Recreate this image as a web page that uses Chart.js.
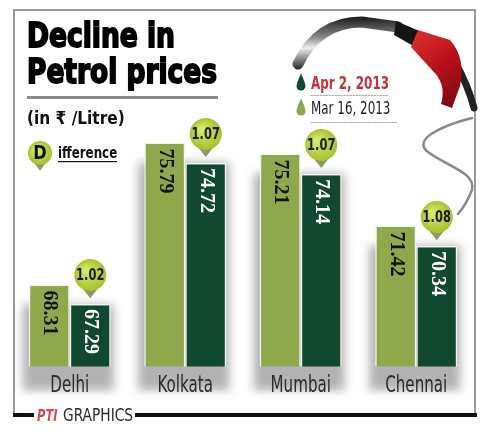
<!DOCTYPE html>
<html>
<head>
<meta charset="utf-8">
<script src="https://cdn.jsdelivr.net/npm/chart.js@4.4.1/dist/chart.umd.min.js"></script>
<style>
  html, body { margin: 0; padding: 0; background: #fff; }
  #wrap { width: 487px; height: 430px; position: relative; }
</style>
</head>
<body>
<div id="wrap"><canvas id="petrolChart"></canvas></div>
<script>
// data (Rs per litre)
var cities = ["Delhi", "Kolkata", "Mumbai", "Chennai"];
var mar16 = [68.31, 75.79, 75.21, 71.42];
var apr2 = [67.29, 74.72, 74.14, 70.34];
var diffLabels = ["1.02", "1.07", "1.07", "1.08"];
var seriesNames = ["Mar 16, 2013", "Apr 2, 2013"];

var LIGHT = "#8fa84b";
var DARK = "#10492f";
var NARROW = '"DejaVu Sans Condensed", "Liberation Sans", sans-serif';

function drop(ctx, cx, cy, w, h, color) {
  var r = w / 2;
  ctx.beginPath();
  ctx.moveTo(cx, cy - h / 2);
  ctx.quadraticCurveTo(cx + r * 0.9, cy, cx + r, cy + h / 2 - r);
  ctx.arc(cx, cy + h / 2 - r, r, 0, Math.PI);
  ctx.quadraticCurveTo(cx - r * 0.9, cy, cx, cy - h / 2);
  ctx.fillStyle = color;
  ctx.fill();
}

// text drawn narrower than the installed condensed face
function narrowText(ctx, text, x, y, sx, align, stroke) {
  var w = ctx.measureText(text).width * sx;
  var dx = align === "center" ? -w / 2 : 0;
  ctx.save();
  ctx.textAlign = "left";
  ctx.translate(x + dx, y);
  ctx.scale(sx, 1);
  ctx.fillText(text, 0, 0);
  if (stroke) ctx.strokeText(text, 0, 0);
  ctx.restore();
}

function badge(ctx, cx, cy, r, text, size) {
  ctx.beginPath();
  ctx.moveTo(cx - r * 0.75, cy + r * 0.5);
  ctx.lineTo(cx + r * 0.75, cy + r * 0.5);
  ctx.lineTo(cx, cy + r * 1.45);
  ctx.closePath();
  ctx.fillStyle = "#8c9a6a";
  ctx.fill();
  var g = ctx.createRadialGradient(cx - r * 0.3, cy - r * 0.3, 2, cx, cy, r);
  g.addColorStop(0, "#d4e86a");
  g.addColorStop(1, "#a5c22c");
  ctx.beginPath();
  ctx.arc(cx, cy, r, 0, Math.PI * 2);
  ctx.fillStyle = g;
  ctx.fill();
  if (text) {
    ctx.fillStyle = "#1a1a1a";
    ctx.font = "bold " + size + "px " + NARROW;
    ctx.textBaseline = "middle";
    narrowText(ctx, text, cx, cy + 1, 0.85, "center");
  }
}

var decor = {
  id: "decor",
  beforeDraw: function (chart) {
    var ctx = chart.ctx;
    ctx.save();
    ctx.fillStyle = "#fff";
    ctx.fillRect(0, 0, chart.width, chart.height);

    // frame
    ctx.strokeStyle = "#7a7a7a";
    ctx.lineWidth = 1.5;
    ctx.beginPath();
    ctx.moveTo(14, 415);
    ctx.lineTo(14, 10);
    ctx.lineTo(475, 10);
    ctx.lineTo(475, 415);
    ctx.stroke();
    ctx.strokeStyle = "#111";
    ctx.lineWidth = 4;
    ctx.beginPath();
    ctx.moveTo(13, 415);
    ctx.lineTo(34, 415);
    ctx.moveTo(135, 415);
    ctx.lineTo(477, 415);
    ctx.stroke();

    // title
    ctx.fillStyle = "#000";
    ctx.strokeStyle = "#000";
    ctx.lineWidth = 1.8;
    ctx.textBaseline = "alphabetic";
    ctx.font = "bold 34px " + NARROW;
    narrowText(ctx, "Decline in", 27, 47, 148 / ctx.measureText("Decline in").width, "left", true);
    narrowText(ctx, "Petrol prices", 27, 83, 190 / ctx.measureText("Petrol prices").width, "left", true);
    ctx.fillStyle = "#8a8a8a";
    ctx.fillRect(27, 96, 191, 3);

    ctx.fillStyle = "#111";
    ctx.font = "bold 18px " + NARROW;
    narrowText(ctx, "(in \u20B9 /Litre)", 27, 124, 0.95, "left");

    // Difference key
    badge(ctx, 40, 153, 12, "", 12);
    ctx.fillStyle = "#111";
    ctx.font = "bold 20px " + NARROW;
    ctx.textBaseline = "middle";
    narrowText(ctx, "D", 40, 154, 0.9, "center");
    ctx.textBaseline = "alphabetic";
    ctx.font = "bold 15px " + NARROW;
    narrowText(ctx, "ifference", 58, 158, 0.88, "left");
    ctx.fillRect(58, 161, 59, 1.2);

    // pump hose + nozzle
    ctx.lineCap = "round";
    var hg = ctx.createLinearGradient(0, 15, 0, 70);
    hg.addColorStop(0, "#111");
    hg.addColorStop(0.4, "#888");
    hg.addColorStop(0.6, "#eee");
    hg.addColorStop(1, "#222");
    ctx.strokeStyle = hg;
    ctx.lineWidth = 11;
    ctx.beginPath();
    ctx.moveTo(298, 64);
    ctx.quadraticCurveTo(318, 22, 362, 22);
    ctx.lineTo(398, 27);
    ctx.stroke();
    ctx.fillStyle = "#151515";
    ctx.beginPath();
    ctx.moveTo(396, 21);
    ctx.lineTo(424, 33);
    ctx.lineTo(417, 48);
    ctx.lineTo(394, 35);
    ctx.closePath();
    ctx.fill();
    ctx.strokeStyle = "#222";
    ctx.lineWidth = 7;
    ctx.beginPath();
    ctx.moveTo(455, 62);
    ctx.quadraticCurveTo(468, 85, 474, 108);
    ctx.stroke();
    var rg = ctx.createLinearGradient(415, 30, 465, 100);
    rg.addColorStop(0, "#e03030");
    rg.addColorStop(0.5, "#b8101a");
    rg.addColorStop(1, "#7d0a10");
    ctx.fillStyle = rg;
    ctx.beginPath();
    ctx.moveTo(418, 30);
    ctx.lineTo(450, 40);
    ctx.quadraticCurveTo(466, 58, 460, 86);
    ctx.lineTo(452, 108);
    ctx.lineTo(441, 104);
    ctx.quadraticCurveTo(447, 84, 432, 70);
    ctx.lineTo(411, 47);
    ctx.closePath();
    ctx.fill();
    // wire
    ctx.strokeStyle = "#8a8a8a";
    ctx.lineWidth = 2.5;
    ctx.beginPath();
    ctx.moveTo(472, 118);
    ctx.bezierCurveTo(440, 126, 412, 140, 428, 152);
    ctx.bezierCurveTo(446, 166, 476, 172, 472, 190);
    ctx.quadraticCurveTo(466, 205, 458, 214);
    ctx.stroke();

    // legend
    drop(ctx, 301, 82, 9, 17, DARK);
    drop(ctx, 301, 107, 9, 17, LIGHT);
    ctx.textBaseline = "alphabetic";
    ctx.fillStyle = "#c6303c";
    ctx.font = "bold 17px " + NARROW;
    narrowText(ctx, seriesNames[1], 311, 89, 0.78, "left");
    ctx.fillStyle = "#1e1e1e";
    ctx.font = "17px " + NARROW;
    narrowText(ctx, seriesNames[0], 311, 114, 0.78, "left");
    ctx.strokeStyle = "#aaa";
    ctx.lineWidth = 1;
    ctx.setLineDash([1.5, 1.5]);
    ctx.beginPath();
    ctx.moveTo(311, 95.5);
    ctx.lineTo(389, 95.5);
    ctx.moveTo(311, 122.5);
    ctx.lineTo(398, 122.5);
    ctx.stroke();
    ctx.setLineDash([]);

    // credit
    ctx.fillStyle = "#d04a55";
    ctx.font = "bold italic 15px " + NARROW;
    narrowText(ctx, "PTI", 37, 421, 0.85, "left");
    ctx.fillStyle = "#2a2a2a";
    ctx.font = "17px " + NARROW;
    narrowText(ctx, "GRAPHICS", 63, 421, 0.9, "left");
    ctx.restore();
  },
  beforeDatasetsDraw: function (chart) {
    var ctx = chart.ctx;
    var m0 = chart.getDatasetMeta(0), m1 = chart.getDatasetMeta(1);
    var bottom = chart.chartArea.bottom;
    ctx.save();
    ctx.filter = "blur(5px)";
    ctx.fillStyle = "rgba(0,0,0,0.3)";
    for (var i = 0; i < m0.data.length; i++) {
      var a = m0.data[i], b = m1.data[i];
      var left = a.x - a.width / 2 - 6;
      var right = b.x + b.width / 2 + 3;
      ctx.fillRect(left, a.y + 20, right - left, bottom + 24 - (a.y + 20));
    }
    ctx.restore();
  },
  afterDatasetsDraw: function (chart) {
    var ctx = chart.ctx;
    var m0 = chart.getDatasetMeta(0), m1 = chart.getDatasetMeta(1);
    var xs = chart.scales.x;
    ctx.save();
    for (var i = 0; i < m0.data.length; i++) {
      var a = m0.data[i], b = m1.data[i];
      ctx.font = 'bold 20px "Liberation Serif", "DejaVu Serif", serif';
      ctx.textAlign = "left";
      ctx.textBaseline = "middle";
      ctx.save();
      ctx.translate(a.x, a.y + 6);
      ctx.rotate(Math.PI / 2);
      ctx.fillStyle = "#111";
      ctx.fillText(mar16[i].toFixed(2), 0, 0);
      ctx.restore();
      ctx.save();
      ctx.translate(b.x, b.y + 5);
      ctx.rotate(Math.PI / 2);
      ctx.fillStyle = "#fff";
      ctx.fillText(apr2[i].toFixed(2), 0, 0);
      ctx.restore();
      badge(ctx, b.x, b.y - 29, 16, diffLabels[i], 15);
    }
    // category names at the x scale tick positions, narrowed
    ctx.fillStyle = "#2a2a2a";
    ctx.font = "23px " + NARROW;
    ctx.textBaseline = "middle";
    xs.ticks.forEach(function (t, i) {
      narrowText(ctx, cities[i], xs.getPixelForTick(i), xs.top + 20, 0.73, "center");
    });
    ctx.restore();
  }
};

var ctx = document.getElementById("petrolChart").getContext("2d");
var petrolChart = new Chart(ctx, {
  type: "bar",
  data: {
    labels: cities,
    datasets: [
      {
        label: seriesNames[0],
        data: mar16,
        backgroundColor: LIGHT,
        borderColor: "#f4f4ee",
        borderWidth: 1.5
      },
      {
        label: seriesNames[1],
        data: apr2,
        backgroundColor: DARK,
        borderColor: "#f4f4ee",
        borderWidth: 1.5
      }
    ]
  },
  options: {
    responsive: true,
    maintainAspectRatio: false,
    animation: false,
    layout: { padding: { left: 12, right: 13, top: 0, bottom: 20 } },
    datasets: { bar: { categoryPercentage: 0.71, barPercentage: 1 } },
    plugins: {
      legend: { display: false },
      tooltip: { enabled: false },
      title: { display: false }
    },
    scales: {
      x: {
        grid: { display: false, drawTicks: false },
        border: { display: false },
        ticks: {
          color: "rgba(0,0,0,0)",
          padding: 8,
          font: { family: NARROW, size: 23 }
        }
      },
      y: {
        display: false,
        min: 64,
        max: 83.3
      }
    }
  },
  plugins: [decor]
});
</script>
</body>
</html>
